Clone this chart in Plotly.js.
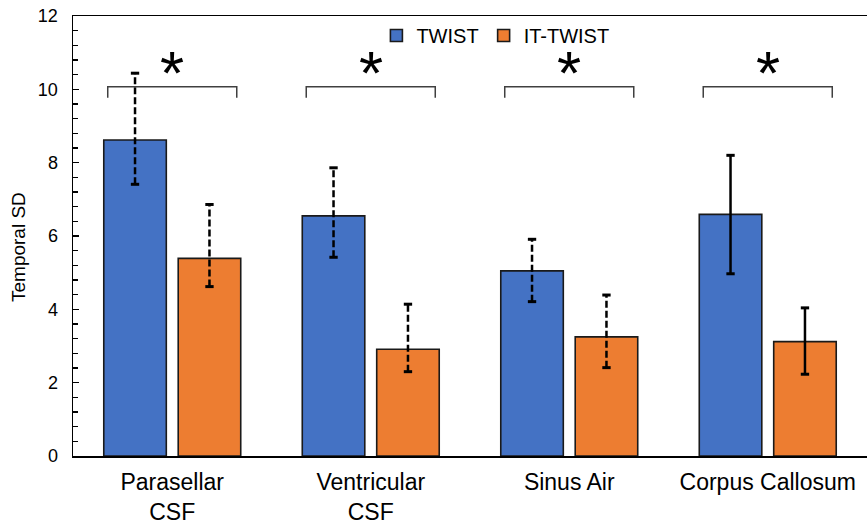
<!DOCTYPE html>
<html>
<head>
<meta charset="utf-8">
<script src="https://cdn.plot.ly/plotly-3.0.1.min.js"></script>
<style>html,body{margin:0;padding:0;background:#fff;}#chart{width:867px;height:526px;}</style>
</head>
<body>
<div id="chart"></div>
<script>
// ---- data ----
const categories = ['Parasellar<br>CSF', 'Ventricular<br>CSF', 'Sinus Air', 'Corpus Callosum'];
const seriesNames = ['TWIST', 'IT-TWIST'];
const twist = [8.62, 6.55, 5.05, 6.59];
const twistUpper = [10.44, 7.86, 5.91, 8.20];
const twistLower = [7.41, 5.42, 4.21, 4.97];
const itTwist = [5.39, 2.91, 3.25, 3.12];
const itTwistUpper = [6.86, 4.14, 4.39, 4.04];
const itTwistLower = [4.62, 2.30, 2.41, 2.23];
const dashedErrors = [true, true, true, false];
const significant = [true, true, true, true];
const bracketTop = [10.07, 10.07, 10.07, 10.07];
const bracketDrop = [9.77, 9.77, 9.77, 9.77];
const yTickVals = [0, 2, 4, 6, 8, 10, 12];
const yTitle = 'Temporal SD';

// ---- style / geometry ----
const colors = ['#4472C4', '#ED7D31'];
const FONT = '"Liberation Sans", Arial, sans-serif';
const bargap = 0.25, bargroupgap = 0.16;
const slot = (1 - bargap) / 2;
const offsets = [-slot / 2, slot / 2];
const capHalf = 0.021;
const bracketHalf = 0.325;

const idx = categories.map((_, i) => i);
const traces = [];
const values = [twist, itTwist];
const uppers = [twistUpper, itTwistUpper];
const lowers = [twistLower, itTwistLower];

values.forEach((v, s) => {
  traces.push({
    type: 'bar', x: idx, y: v, name: seriesNames[s],
    marker: {color: colors[s], line: {color: '#1a1a1a', width: 1.6}},
    hoverinfo: 'skip'
  });
});

// error bars drawn as line traces (dashed or solid)
values.forEach((v, s) => {
  const dx = [], dy = [], sx = [], sy = [], cx = [], cy = [];
  idx.forEach(i => {
    const x = i + offsets[s];
    const tx = dashedErrors[i] ? dx : sx;
    const ty = dashedErrors[i] ? dy : sy;
    tx.push(x, x, null); ty.push(lowers[s][i], uppers[s][i], null);
    [lowers[s][i], uppers[s][i]].forEach(yv => {
      cx.push(x - capHalf, x + capHalf, null); cy.push(yv, yv, null);
    });
  });
  traces.push({type: 'scatter', mode: 'lines', x: dx, y: dy, showlegend: false, hoverinfo: 'skip',
    line: {color: '#000', width: 2.5, dash: '7px,3px'}});
  traces.push({type: 'scatter', mode: 'lines', x: sx, y: sy, showlegend: false, hoverinfo: 'skip',
    line: {color: '#000', width: 2.5}});
  traces.push({type: 'scatter', mode: 'lines', x: cx, y: cy, showlegend: false, hoverinfo: 'skip',
    line: {color: '#000', width: 3}});
});

// significance brackets
const bx = [], by = [];
idx.forEach(i => {
  if (!significant[i]) return;
  bx.push(i - bracketHalf, i - bracketHalf, i + bracketHalf, i + bracketHalf, null);
  by.push(bracketDrop[i], bracketTop[i], bracketTop[i], bracketDrop[i], null);
});
traces.push({type: 'scatter', mode: 'lines', x: bx, y: by, showlegend: false, hoverinfo: 'skip',
  line: {color: '#404040', width: 1.5}});

const annotations = idx.filter(i => significant[i]).map(i => ({
  x: i, y: bracketTop[i], xref: 'x', yref: 'y', text: '*', showarrow: false,
  yanchor: 'bottom', yshift: -22, font: {family: FONT, size: 62, color: '#000'}
}));
annotations.push({
  text: yTitle, textangle: -90, xref: 'paper', yref: 'paper', x: 0, xshift: -55,
  y: 0.5, yshift: -11, showarrow: false, xanchor: 'center', yanchor: 'middle',
  font: {family: FONT, size: 19, color: '#000'}
});

const layout = {
  width: 867, height: 526,
  margin: {l: 73, r: 0, t: 16, b: 70},
  paper_bgcolor: '#fff', plot_bgcolor: '#fff',
  barmode: 'group', bargap: bargap, bargroupgap: bargroupgap,
  font: {family: FONT, color: '#000'},
  showlegend: true,
  legend: {orientation: 'h', x: 0.532, xanchor: 'center', y: 1.0, yanchor: 'top',
    font: {family: FONT, size: 20, color: '#000'}, itemwidth: 30, bgcolor: 'rgba(0,0,0,0)',
    traceorder: 'normal'},
  xaxis: {range: [-0.5, 3.5], tickvals: idx, ticktext: categories, ticks: '',
    showline: true, linecolor: '#000', linewidth: 1.5, mirror: true, showgrid: false,
    zeroline: false, ticklabelstandoff: 5,
    tickfont: {family: FONT, size: 23, color: '#000'}, fixedrange: true},
  yaxis: {range: [0, 12], tickvals: yTickVals, ticks: 'inside', ticklen: 6, tickwidth: 1.5,
    tickcolor: '#000', showline: true, linecolor: '#000', linewidth: 1.5, showgrid: false,
    zeroline: false, ticklabelstandoff: 10,
    minor: {dtick: 0.4, ticks: 'inside', ticklen: 5, tickwidth: 1.5, tickcolor: '#000', showgrid: false},
    tickfont: {family: FONT, size: 18, color: '#000'},
    fixedrange: true},
  annotations: annotations
};

Plotly.newPlot('chart', traces, layout, {staticPlot: true, displayModeBar: false});
</script>
</body>
</html>
